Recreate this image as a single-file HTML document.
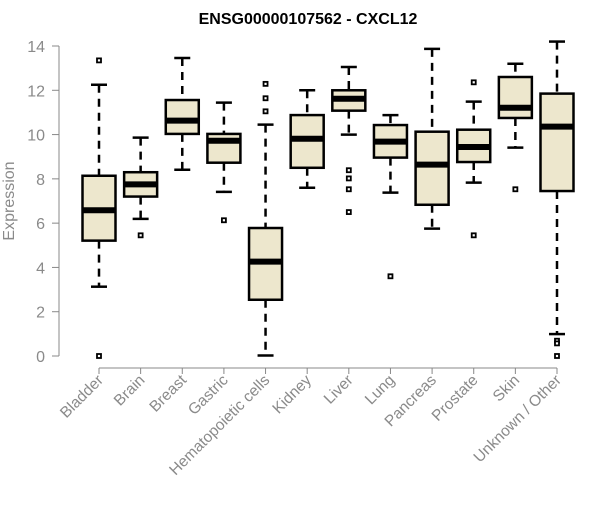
<!DOCTYPE html>
<html><head><meta charset="utf-8"><style>
body{margin:0;background:#fff;}
svg text{font-family:"Liberation Sans",Arial,sans-serif;}
</style></head><body>
<svg id="chart" width="600" height="500" xmlns="http://www.w3.org/2000/svg">
<text x="308" y="24" text-anchor="middle" font-weight="bold" font-size="16" fill="#000">ENSG00000107562 - CXCL12</text>
<text transform="translate(14,201) rotate(-90)" text-anchor="middle" font-size="16" fill="#8a8a8a">Expression</text>
<g id="axes"></g><g id="boxes"></g>
</svg>
<script>
const categories=["Bladder","Brain","Breast","Gastric","Hematopoietic cells","Kidney","Liver","Lung","Pancreas","Prostate","Skin","Unknown / Other"];
const q1=[5.21,7.2,10.03,8.73,2.54,8.5,11.08,8.96,6.83,8.76,10.75,7.45];
const medians=[6.58,7.75,10.63,9.72,4.26,9.81,11.62,9.68,8.64,9.44,11.21,10.36];
const q3=[8.14,8.3,11.56,10.03,5.78,10.88,12.0,10.43,10.13,10.22,12.6,11.85];
const whiskLow=[3.13,6.19,8.41,7.41,0.02,7.6,10.0,7.38,5.75,7.83,9.41,0.99];
const whiskHigh=[12.25,9.86,13.46,11.44,10.45,12.0,13.05,10.88,13.87,11.49,13.2,14.2];
const outliers=[[13.35,0],[5.45],[],[6.13],[12.29,11.64,11.05],[],[8.39,8.02,7.53,6.5],[3.6],[],[12.36,5.45],[7.53],[0.69,0.57,0]];
const yTicks=[0,2,4,6,8,10,12,14];
const NS="http://www.w3.org/2000/svg";
const y=v=>356-v*(310/14);
const x=i=>99+i*(458/11);
function mk(tag,attrs,parent){const e=document.createElementNS(NS,tag);for(const k in attrs)e.setAttribute(k,attrs[k]);parent.appendChild(e);return e;}
const ax=document.getElementById('axes'),bx=document.getElementById('boxes');
let l=mk('line',{x1:59,x2:59,y1:y(14),y2:y(0),stroke:'#888'},ax);


yTicks.forEach(t=>{
 const tk=mk('line',{x1:52,x2:59,y1:y(t),y2:y(t),stroke:'#888'},ax);
 
 
 const tx=mk('text',{x:45,y:y(t)+6,'text-anchor':'end','font-size':16,fill:'#8a8a8a'},ax);
 tx.textContent=t;
 
 
});
l=mk('line',{x1:x(0),x2:x(11),y1:368,y2:368,stroke:'#888'},ax);


categories.forEach((c,i)=>{
 const cx=x(i);
 const tk=mk('line',{x1:cx,x2:cx,y1:368,y2:374,stroke:'#888'},ax);
 
 
 const tx=mk('text',{x:cx+5,y:381,'text-anchor':'end','font-size':15.5,fill:'#8a8a8a',transform:`rotate(-45 ${cx+5} 381)`},ax);
 tx.textContent=c;
 
 
 const g=mk('g',{},bx);
 
 
 mk('line',{x1:cx,x2:cx,y1:y(whiskHigh[i]),y2:y(q3[i]),stroke:'#000','stroke-width':2.5,'stroke-dasharray':'8,6'},g);
 mk('line',{x1:cx,x2:cx,y1:y(q1[i]),y2:y(whiskLow[i]),stroke:'#000','stroke-width':2.5,'stroke-dasharray':'8,6'},g);
 mk('line',{x1:cx-8,x2:cx+8,y1:y(whiskHigh[i]),y2:y(whiskHigh[i]),stroke:'#000','stroke-width':2.5},g);
 mk('line',{x1:cx-8,x2:cx+8,y1:y(whiskLow[i]),y2:y(whiskLow[i]),stroke:'#000','stroke-width':2.5},g);
 mk('rect',{x:cx-16.5,y:y(q3[i]),width:33,height:y(q1[i])-y(q3[i]),fill:'#ede7cd',stroke:'#000','stroke-width':2.5},g);
 mk('line',{x1:cx-16.5,x2:cx+16.5,y1:y(medians[i]),y2:y(medians[i]),stroke:'#000','stroke-width':6},g);
 outliers[i].forEach(v=>{
  const o=mk('rect',{x:cx-2,y:y(v)-2,width:4,height:4,fill:'#fff',stroke:'#000','stroke-width':1.8},g);
  
  
 });
});
</script>
</body></html>
